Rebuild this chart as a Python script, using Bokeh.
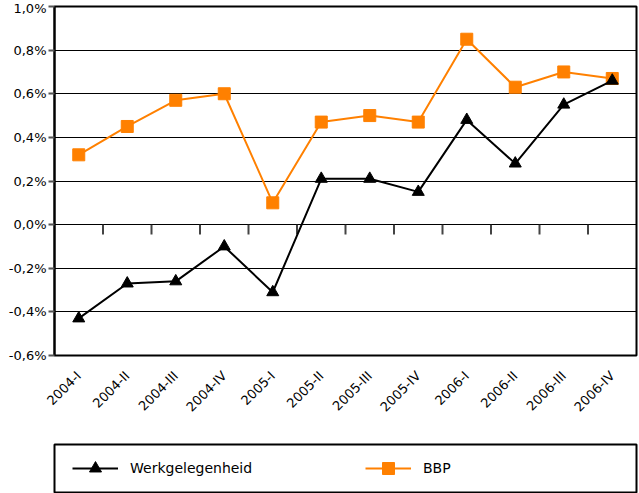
from bokeh.plotting import figure
from bokeh.layouts import column
from bokeh.models import (FactorRange, Range1d, FixedTicker, CustomJSTickFormatter,
                          Legend, LegendItem, ColumnDataSource)
from bokeh.transform import dodge
from bokeh.embed import file_html
from bokeh.resources import INLINE
import math

quarters = ["2004-I", "2004-II", "2004-III", "2004-IV", "2005-I", "2005-II",
            "2005-III", "2005-IV", "2006-I", "2006-II", "2006-III", "2006-IV"]
werkgelegenheid = [-0.43, -0.27, -0.26, -0.10, -0.31, 0.21, 0.21, 0.15, 0.48, 0.28, 0.55, 0.66]
bbp = [0.32, 0.45, 0.57, 0.60, 0.10, 0.47, 0.50, 0.47, 0.85, 0.63, 0.70, 0.67]
y_ticks = [-0.6, -0.4, -0.2, 0.0, 0.2, 0.4, 0.6, 0.8, 1.0]
series_names = ["Werkgelegenheid", "BBP"]

FONT = "DejaVu Sans"
ORANGE = "#FF8000"

p = figure(width=639, height=422, output_backend="svg", toolbar_location=None,
           x_range=FactorRange(*quarters, range_padding=0),
           y_range=Range1d(-0.6, 1.0))
p.min_border_left = 54
p.min_border_right = 3
p.min_border_top = 6
p.min_border_bottom = 0
p.background_fill_color = "white"
p.border_fill_color = "white"
p.outline_line_color = "black"
p.outline_line_width = 2

p.xgrid.grid_line_color = None
p.ygrid.grid_line_color = "black"
p.ygrid.grid_line_width = 1
p.ygrid.ticker = FixedTicker(ticks=y_ticks)

p.yaxis.ticker = FixedTicker(ticks=y_ticks)
p.yaxis.formatter = CustomJSTickFormatter(code="""
    return tick.toFixed(1).replace('.', ',').replace('-0,0','0,0') + '%';
""")
p.yaxis.axis_line_color = "black"
p.yaxis.axis_line_width = 2
p.yaxis.major_tick_line_color = "#555555"
p.yaxis.major_tick_line_width = 2
p.yaxis.major_tick_out = 6
p.yaxis.major_tick_in = 0
p.yaxis.minor_tick_line_color = None
p.yaxis.major_label_text_font = FONT
p.yaxis.major_label_text_font_size = "13px"
p.yaxis.major_label_text_color = "black"
p.yaxis.major_label_standoff = 2

p.xaxis.axis_line_color = None
p.xaxis.major_tick_line_color = None
p.xaxis.minor_tick_line_color = None
p.xaxis.major_label_orientation = math.pi / 4
p.xaxis.major_label_text_font = FONT
p.xaxis.major_label_text_font_size = "13px"
p.xaxis.major_label_text_color = "black"
p.xaxis.major_label_standoff = 12

# small tick marks on the zero line at category boundaries
tick_src = ColumnDataSource(dict(x=quarters[:-1], y0=[0.0] * 11, y1=[-0.045] * 11))
p.segment(x0=dodge("x", 0.5, range=p.x_range), x1=dodge("x", 0.5, range=p.x_range),
          y0="y0", y1="y1", source=tick_src, line_color="#444444", line_width=2)

src = ColumnDataSource(dict(q=quarters, w=werkgelegenheid, b=bbp))
p.line("q", "b", source=src, line_color=ORANGE, line_width=2)
p.scatter("q", "b", source=src, marker="square", size=12,
          fill_color=ORANGE, line_color=ORANGE)
p.line("q", "w", source=src, line_color="black", line_width=2)
p.scatter("q", "w", source=src, marker="triangle", size=12,
          fill_color="black", line_color="black")

# legend panel below the chart
q = figure(width=639, height=71, output_backend="svg", toolbar_location=None,
           x_axis_type=None, y_axis_type=None,
           x_range=Range1d(0, 1), y_range=Range1d(0, 1))
q.min_border_left = 54
q.min_border_right = 3
q.min_border_top = 22
q.min_border_bottom = 1
q.xgrid.grid_line_color = None
q.ygrid.grid_line_color = None
q.outline_line_color = "black"
q.outline_line_width = 2
nan = float("nan")
empty = ColumnDataSource(dict(x=[nan], y=[nan]))
glw = q.line("x", "y", source=empty, line_color="black", line_width=2)
gsw = q.scatter("x", "y", source=empty, marker="triangle", size=12,
                fill_color="black", line_color="black")
glb = q.line("x", "y", source=empty, line_color=ORANGE, line_width=2)
gsb = q.scatter("x", "y", source=empty, marker="square", size=12,
                fill_color=ORANGE, line_color=ORANGE)

legend = Legend(items=[LegendItem(label=series_names[0], renderers=[glw, gsw]),
                       LegendItem(label=series_names[1], renderers=[glb, gsb])],
                orientation="horizontal", location="left")
legend.border_line_color = None
legend.background_fill_alpha = 0
legend.padding = 0
legend.margin = 9
legend.spacing = 40
legend.label_width = 195
legend.glyph_width = 46
legend.glyph_height = 30
legend.label_height = 30
legend.label_standoff = 12
legend.label_text_font = FONT
legend.label_text_font_size = "14px"
legend.label_text_color = "black"
q.add_layout(legend)

# keep legend's left edge at 18 px inside the box
legend.location = (18, 9)

layout = column(p, q, spacing=0)
open("out.html", "w").write(file_html(layout, INLINE))
